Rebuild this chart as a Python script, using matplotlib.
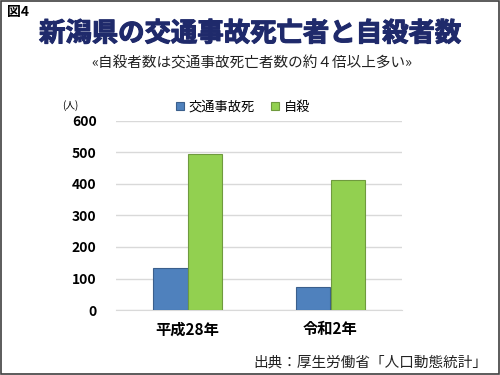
import matplotlib
matplotlib.use("Agg")
from matplotlib import pyplot as plt
import matplotlib.patheffects as pe
from matplotlib.patches import Rectangle
import numpy as np

plt.rcParams['font.family'] = ['Noto Sans CJK JP', 'DejaVu Sans']

categories = ['平成28年', '令和2年']
traffic = [135, 73]
suicide = [495, 411]
series_names = ['交通事故死', '自殺']
yticks = [0, 100, 200, 300, 400, 500, 600]

fig = plt.figure(figsize=(5, 3.75), dpi=100)
fig.patch.set_facecolor('white')

# outer frame
fig.add_artist(Rectangle((0.002, 0.003), 0.995, 0.994, transform=fig.transFigure,
                         fill=False, edgecolor='#404040', linewidth=1.2))

ax = fig.add_axes([0.232, 0.173, 0.572, 0.505])
x = np.arange(len(categories))
w = 0.24
ax.bar(x - w / 2, traffic, w, color='#4F81BD', edgecolor='#3B5F8C',
       linewidth=0.8, label=series_names[0], zorder=3)
ax.bar(x + w / 2, suicide, w, color='#92D050', edgecolor='#6F9A3E',
       linewidth=0.8, label=series_names[1], zorder=3)

ax.set_xlim(-0.5, 1.5)
ax.set_ylim(0, 600)
ax.set_yticks(yticks)
ax.set_yticklabels([str(v) for v in yticks], fontweight='bold', fontsize=10)
ax.set_xticks(x)
ax.set_xticklabels(categories, fontweight='bold', fontsize=11)
ax.yaxis.grid(True, color='#D9D9D9', linewidth=1)
ax.set_axisbelow(True)
for s in ['top', 'right', 'left']:
    ax.spines[s].set_visible(False)
ax.spines['bottom'].set_color('#D9D9D9')
ax.tick_params(length=0)
ax.tick_params(axis='y', pad=14)
ax.tick_params(axis='x', pad=8)

ax.legend(loc='center', bbox_to_anchor=(0.445, 1.072), ncol=2, frameon=False,
          fontsize=9.5, handlelength=0.6, handleheight=0.6, columnspacing=1.2,
          handletextpad=0.4, borderaxespad=0)

fig.text(0.124, 0.718, '(人)', fontsize=7, ha='left', va='center')

fig.text(0.014, 0.967, '図4', fontsize=10, fontweight='bold', ha='left', va='center')
fig.text(0.5, 0.91, '新潟県の交通事故死亡者と自殺者数', fontsize=19,
         fontweight='bold', color='#1F2A6B', ha='center', va='center',
         path_effects=[pe.withStroke(linewidth=0.8, foreground='#1F2A6B')])
fig.text(0.503, 0.832, '«自殺者数は交通事故死亡者数の約４倍以上多い»', fontsize=10.5,
         ha='center', va='center', color='#222222')
fig.text(0.974, 0.032, '出典：厚生労働省「人口動態統計」', fontsize=10.5,
         ha='right', va='center', color='#222222')

fig.savefig('out.png', dpi=100)
